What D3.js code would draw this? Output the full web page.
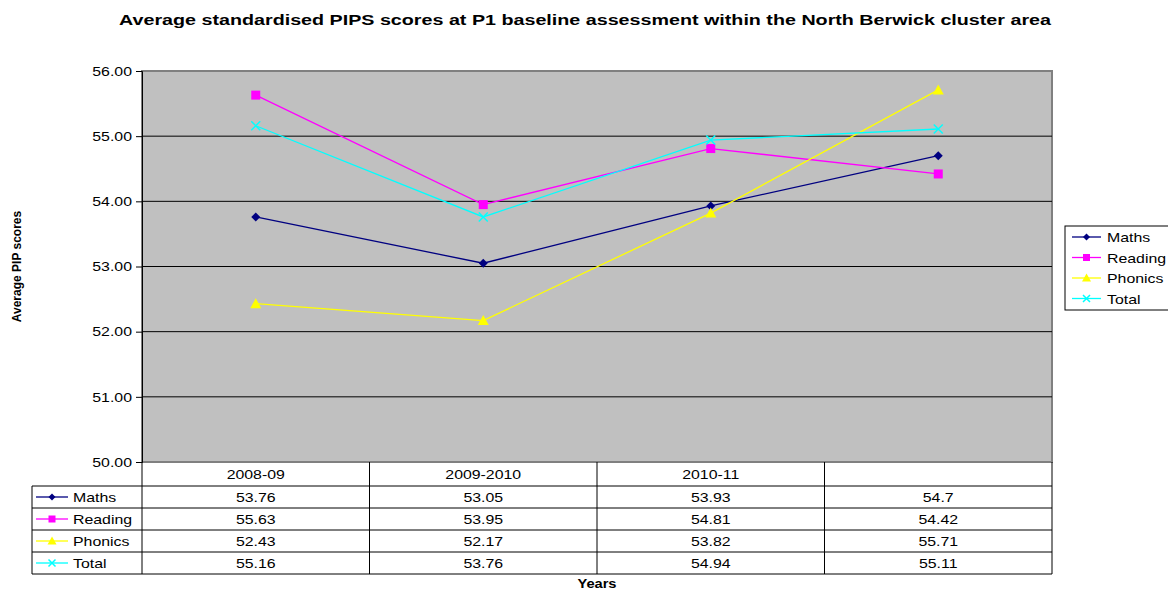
<!DOCTYPE html>
<html>
<head>
<meta charset="utf-8">
<script src="https://cdn.jsdelivr.net/npm/d3@7"></script>
<style>
  body { margin: 0; background: #fff; }
  svg { font-family: Arial, "Liberation Sans", sans-serif; }
</style>
</head>
<body>
<div id="chart"></div>
<script>
const years = ['2008-09', '2009-2010', '2010-11', '']
const seriesNames = ['Maths', 'Reading', 'Phonics', 'Total']
const seriesColors = ['#000080', '#FF00FF', '#FFFF00', '#00FFFF']
const seriesShapes = ['diamond', 'square', 'triangle', 'cross']
const maths = [53.76, 53.05, 53.93, 54.7]
const reading = [55.63, 53.95, 54.81, 54.42]
const phonics = [52.43, 52.17, 53.82, 55.71]
const total = [55.16, 53.76, 54.94, 55.11]
const yTicks = [50, 51, 52, 53, 54, 55, 56]

const allValues = [maths, reading, phonics, total]

const width = 1168
const height = 590
const plot = { left: 142, right: 1052, top: 71, bottom: 462 }
const rowH = 22
const stretch = 1.22

const svg = d3.select('#chart').append('svg')
  .attr('width', width)
  .attr('height', height)

// title
svg.append('text')
  .attr('class', 'fixed')
  .attr('x', 119).attr('y', 25)
  .attr('font-size', '14.5px')
  .attr('font-weight', 'bold')
  .attr('textLength', 932)
  .attr('lengthAdjust', 'spacingAndGlyphs')
  .text('Average standardised PIPS scores at P1 baseline assessment within the North Berwick cluster area')

const x = d3.scaleBand().domain(years.map((d, i) => i)).range([plot.left, plot.right])
const y = d3.scaleLinear().domain([50, 56]).range([plot.bottom, plot.top])

// plot background
svg.append('rect')
  .attr('x', plot.left).attr('y', plot.top)
  .attr('width', plot.right - plot.left).attr('height', plot.bottom - plot.top)
  .attr('fill', '#C0C0C0')
  .attr('stroke', '#808080').attr('stroke-width', 2)

// gridlines
svg.append('g').selectAll('line')
  .data(yTicks.filter(t => t > 50 && t < 56))
  .enter().append('line')
  .attr('x1', plot.left).attr('x2', plot.right)
  .attr('y1', d => y(d)).attr('y2', d => y(d))
  .attr('stroke', '#000').attr('stroke-width', 1)

// y axis
const yAxis = d3.axisLeft(y).tickValues(yTicks).tickFormat(d3.format('.2f')).tickSize(6)
const yg = svg.append('g').attr('transform', `translate(${plot.left},0)`).call(yAxis)
yg.select('.domain').attr('stroke', '#000')
yg.selectAll('.tick line').attr('stroke', '#000')
yg.selectAll('.tick text').attr('font-size', '13px').attr('fill', '#000')
  .attr('font-family', 'Arial, "Liberation Sans", sans-serif')
  .attr('x', -10)

svg.append('text')
  .attr('class', 'fixed')
  .attr('transform', `translate(21,${(plot.top + plot.bottom) / 2}) rotate(-90)`)
  .attr('text-anchor', 'middle')
  .attr('font-size', '12px').attr('font-weight', 'bold')
  .text('Average PIP scores')

function drawMarker(g, shape, color, cx, cy, s) {
  if (shape === 'diamond') {
    g.append('path').attr('d', `M${cx},${cy - s}L${cx + s},${cy}L${cx},${cy + s}L${cx - s},${cy}Z`)
      .attr('fill', color)
  } else if (shape === 'square') {
    g.append('rect').attr('x', cx - s).attr('y', cy - s).attr('width', 2 * s).attr('height', 2 * s)
      .attr('fill', color)
  } else if (shape === 'triangle') {
    g.append('path').attr('d', `M${cx},${cy - s - 1}L${cx + s + 1},${cy + s}L${cx - s - 1},${cy + s}Z`)
      .attr('fill', color)
  } else {
    g.append('path').attr('d', `M${cx - s},${cy - s}L${cx + s},${cy + s}M${cx - s},${cy + s}L${cx + s},${cy - s}`)
      .attr('stroke', color).attr('stroke-width', 1.5).attr('fill', 'none')
  }
}

// series lines
const line = d3.line().x((d, i) => x(i) + x.bandwidth() / 2).y(d => y(d))
allValues.forEach((vals, si) => {
  const g = svg.append('g')
  g.append('path').datum(vals).attr('d', line)
    .attr('fill', 'none').attr('stroke', seriesColors[si]).attr('stroke-width', 1.3)
  vals.forEach((v, i) => drawMarker(g, seriesShapes[si], seriesColors[si], x(i) + x.bandwidth() / 2, y(v), 4.5))
})

// data table
const table = svg.append('g')
const tableLeft = 32
const tableTop = plot.bottom
const tblColor = '#000'
years.forEach((yr, i) => {
  table.append('text')
    .attr('x', x(i) + x.bandwidth() / 2).attr('y', tableTop + 17)
    .attr('text-anchor', 'middle').attr('font-size', '13px')
    .text(yr)
})
const vx = d3.range(years.length + 1).map(i => i < years.length ? x(i) : plot.right)
vx.forEach(xx => {
  table.append('line').attr('x1', xx).attr('x2', xx)
    .attr('y1', tableTop).attr('y2', tableTop + 24 + rowH * 4)
    .attr('stroke', tblColor)
})
table.append('line').attr('x1', tableLeft).attr('x2', tableLeft)
  .attr('y1', tableTop + 24).attr('y2', tableTop + 24 + rowH * 4).attr('stroke', tblColor)
d3.range(5).forEach(r => {
  const yy = tableTop + 24 + rowH * r
  table.append('line').attr('x1', tableLeft).attr('x2', plot.right)
    .attr('y1', yy).attr('y2', yy).attr('stroke', tblColor)
})
seriesNames.forEach((name, si) => {
  const cy = tableTop + 24 + rowH * si + rowH / 2
  const g = table.append('g')
  g.append('line').attr('x1', 36).attr('x2', 68).attr('y1', cy).attr('y2', cy)
    .attr('stroke', seriesColors[si]).attr('stroke-width', 1.3)
  drawMarker(g, seriesShapes[si], seriesColors[si], 52, cy, 3.5)
  g.append('text').attr('x', 73).attr('y', cy + 5).attr('font-size', '13px').text(name)
  allValues[si].forEach((v, i) => {
    g.append('text').attr('x', x(i) + x.bandwidth() / 2).attr('y', cy + 5)
      .attr('text-anchor', 'middle').attr('font-size', '13px').text(v)
  })
})

svg.append('text')
  .attr('x', 597).attr('y', 588)
  .attr('text-anchor', 'middle').attr('font-size', '12px').attr('font-weight', 'bold')
  .text('Years')

// legend
const legend = svg.append('g').attr('transform', 'translate(1065,226)')
legend.append('rect').attr('x', 0).attr('y', 0).attr('width', 110).attr('height', 84)
  .attr('fill', '#fff').attr('stroke', '#000')
seriesNames.forEach((name, si) => {
  const cy = 11 + si * 20.5
  const g = legend.append('g')
  g.append('line').attr('x1', 7).attr('x2', 36).attr('y1', cy).attr('y2', cy)
    .attr('stroke', seriesColors[si]).attr('stroke-width', 1.3)
  drawMarker(g, seriesShapes[si], seriesColors[si], 21.5, cy, 3.5)
  g.append('text').attr('x', 42).attr('y', cy + 5).attr('font-size', '13px').text(name)
})

// the source picture is a bit wider than its fonts: stretch text glyphs to match
svg.selectAll('text:not(.fixed)').each(function () {
  const len = this.getComputedTextLength()
  if (len > 0) {
    d3.select(this).attr('textLength', len * stretch).attr('lengthAdjust', 'spacingAndGlyphs')
  }
})
</script>
</body>
</html>
